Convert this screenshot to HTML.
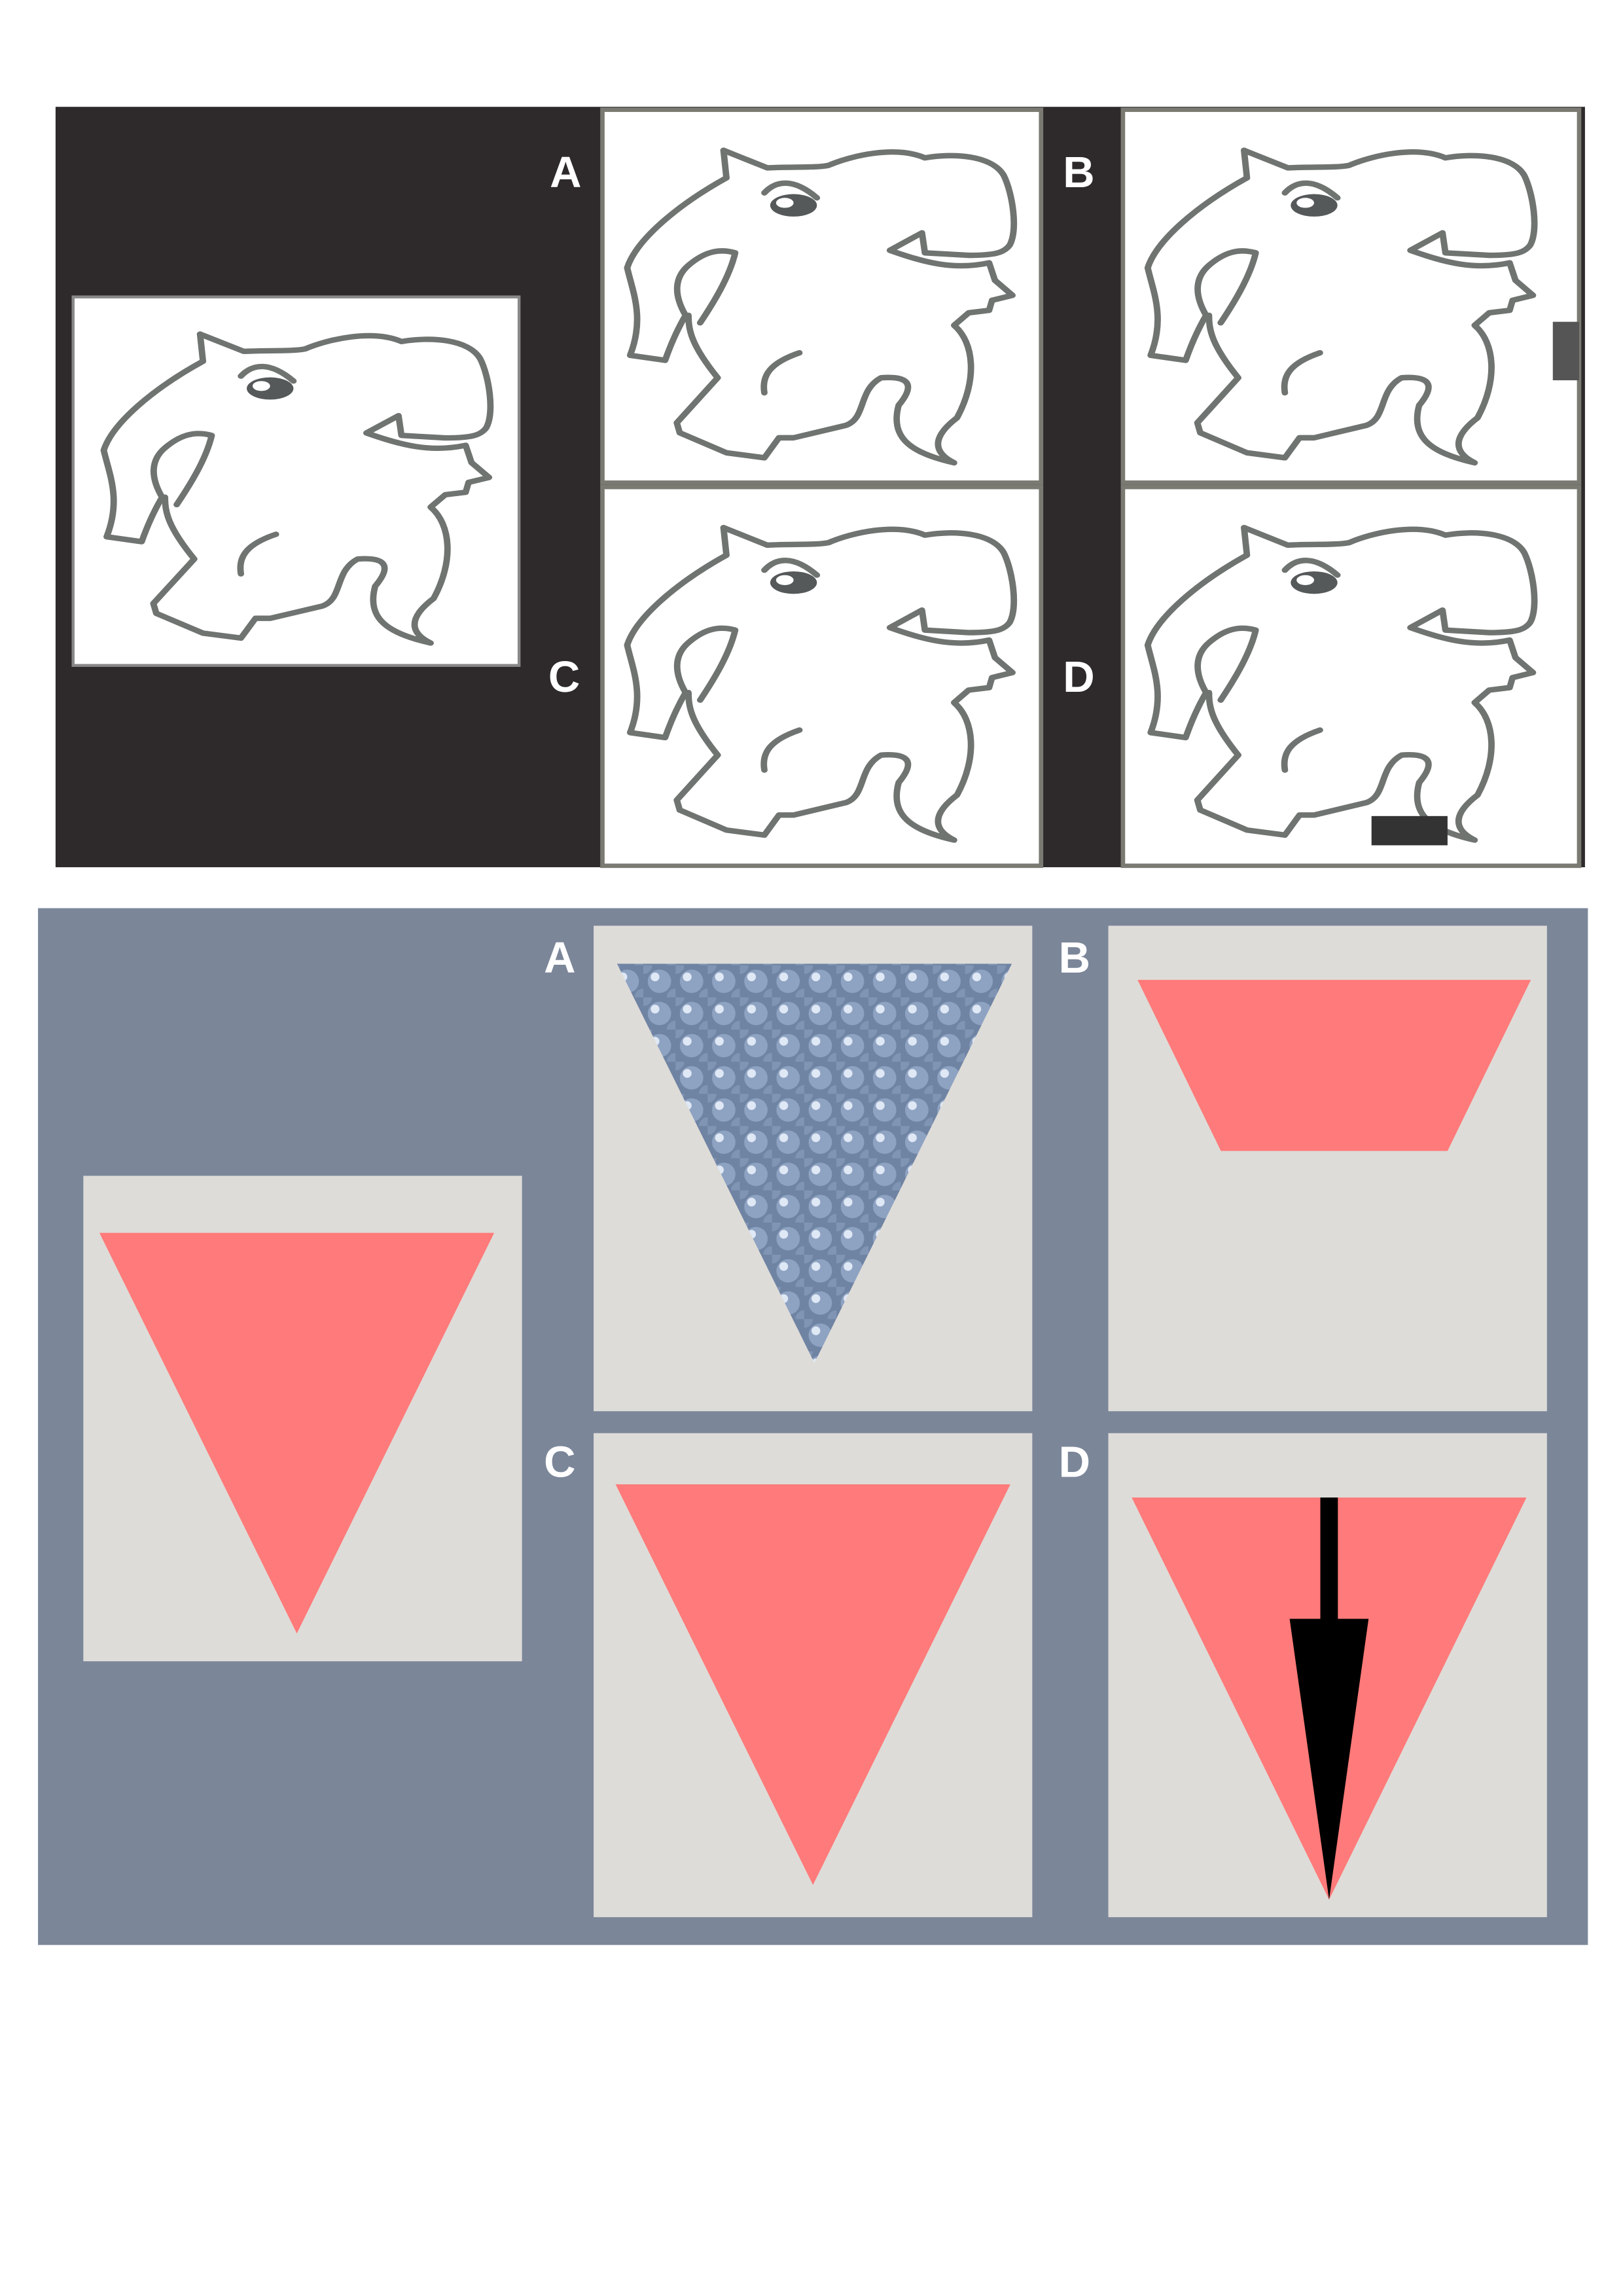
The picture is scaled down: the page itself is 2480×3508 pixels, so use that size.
<!DOCTYPE html>
<html><head><meta charset="utf-8"><style>
html,body{margin:0;padding:0;background:#fff;}
svg{display:block;}
text{font-family:"Liberation Sans",sans-serif;font-weight:bold;fill:#fff;}
</style></head><body>
<svg width="2480" height="3508" viewBox="0 0 1110 1570" xmlns="http://www.w3.org/2000/svg">
<defs>
<symbol id="eleph" viewBox="0 0 1568 1568" preserveAspectRatio="none">
<g fill="none" stroke="#6f7470" stroke-width="22" stroke-linejoin="round" stroke-linecap="round">
<path d="M460,180 L610,250 C700,245 780,250 820,240 C900,200 1050,160 1150,210 C1250,190 1380,200 1420,280 C1450,350 1470,500 1440,560 C1420,590 1390,600 1300,600 L1150,590 L1140,510 L1030,580 C1150,630 1250,660 1370,630 L1390,700 L1450,760 L1380,780 L1370,820 L1300,830 L1250,880 C1320,950 1330,1100 1260,1250 C1170,1330 1180,1390 1250,1430 C1100,1390 1030,1330 1060,1200 C1110,1130 1110,1080 1000,1090 C920,1140 950,1250 880,1280 L700,1330 L650,1330 L600,1410 L470,1390 L310,1310 L300,1270 L440,1090 C350,960 340,900 340,840"/>
<path d="M460,180 L470,290 C300,400 160,540 130,650 C150,750 190,850 140,1000 L260,1020 C290,920 320,860 330,840 C290,760 290,690 340,640 C390,590 440,570 500,590 C480,690 420,800 380,870"/>
<path d="M600,350 C640,300 700,290 780,370"/>
<path d="M600,1150 C590,1080 620,1030 720,990"/>
</g>
<ellipse cx="700" cy="400" rx="80" ry="45" fill="#55595a"/>
<ellipse cx="670" cy="390" rx="30" ry="20" fill="#fff"/>
</symbol>
<pattern id="bubbles" width="22" height="22" patternUnits="userSpaceOnUse">
<rect width="22" height="22" fill="#6f83a3"/>
<circle cx="11" cy="11" r="8" fill="#8ea2c2"/>
<circle cx="8" cy="8" r="3" fill="#dfe8f5"/>
<circle cx="0" cy="0" r="6" fill="#8094b4"/>
<circle cx="22" cy="22" r="6" fill="#8094b4"/>
</pattern>
</defs>

<!-- Top figure -->
<g>
<rect x="38" y="73" width="1046" height="520" fill="#2e2a2b"/>
<rect x="50" y="203" width="305" height="252" fill="#fff" stroke="#888" stroke-width="2"/>
<svg x="45" y="198" width="313" height="265"><use href="#eleph"/></svg>
<rect x="412" y="75" width="300" height="255" fill="#fff" stroke="#7a7a72" stroke-width="3"/>
<rect x="412" y="333" width="300" height="259" fill="#fff" stroke="#7a7a72" stroke-width="3"/>
<rect x="768" y="75" width="312" height="255" fill="#fff" stroke="#7a7a72" stroke-width="3"/>
<rect x="768" y="333" width="312" height="259" fill="#fff" stroke="#7a7a72" stroke-width="3"/>
<svg x="403" y="72" width="313" height="268"><use href="#eleph"/></svg>
<svg x="403" y="330" width="313" height="268"><use href="#eleph"/></svg>
<svg x="759" y="72" width="313" height="268"><use href="#eleph"/></svg>
<svg x="759" y="330" width="313" height="268"><use href="#eleph"/></svg>
<rect x="1062" y="220" width="18" height="40" fill="#555"/>
<rect x="938" y="558" width="52" height="20" fill="#333"/>
<text x="376" y="128" font-size="30">A</text>
<text x="727" y="128" font-size="30">B</text>
<text x="375" y="473" font-size="30">C</text>
<text x="727" y="473" font-size="30">D</text>
</g>

<!-- Bottom figure -->
<g>
<rect x="26" y="621" width="1060" height="709" fill="#7b8699"/>
<rect x="57" y="804" width="300" height="332" fill="#dedcd8"/>
<polygon points="68,843 338,843 203,1117" fill="#ff7a7a"/>
<rect x="406" y="633" width="300" height="332" fill="#dedcd8"/>
<polygon points="422,659 692,659 557,932" fill="url(#bubbles)"/>
<rect x="758" y="633" width="300" height="332" fill="#dedcd8"/>
<polygon points="778,670 1047,670 990,787 835,787" fill="#ff7a7a"/>
<rect x="406" y="980" width="300" height="331" fill="#dedcd8"/>
<polygon points="421,1015 691,1015 556,1289" fill="#ff7a7a"/>
<rect x="758" y="980" width="300" height="331" fill="#dedcd8"/>
<polygon points="774,1024 1044,1024 909,1299" fill="#ff7a7a"/>
<polygon points="903,1024 915,1024 915,1107 936,1107 909,1299 882,1107 903,1107" fill="#000"/>
<text x="372" y="665" font-size="30">A</text>
<text x="724" y="665" font-size="30">B</text>
<text x="372" y="1010" font-size="30">C</text>
<text x="724" y="1010" font-size="30">D</text>
</g>
</svg>
</body></html>
